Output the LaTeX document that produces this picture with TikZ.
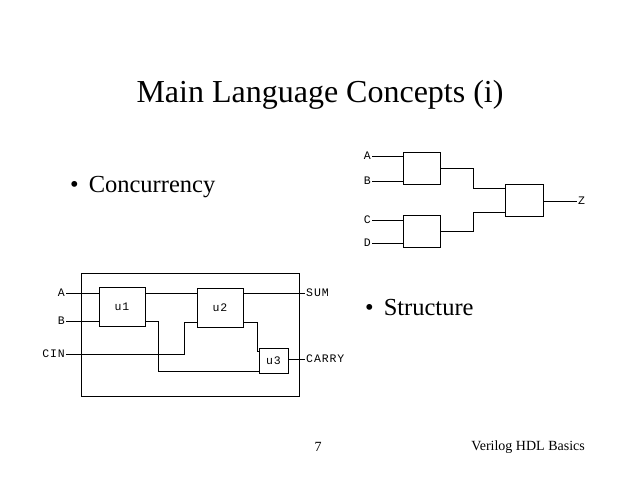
\documentclass[tikz,border=0pt]{standalone}
\usepackage{fontspec}
\setmainfont{Liberation Serif}
\newfontfamily\monof{Liberation Mono}[LetterSpace=8]
\begin{document}
\begin{tikzpicture}[x=1pt,y=-1pt,
  blk/.style={draw,line width=0.9pt,inner sep=0pt},
  w/.style={line width=0.9pt},
  lab/.style={font=\monof\fontsize{11.5}{13}\selectfont,inner sep=1pt},
  txt/.style={inner sep=0pt}]
\useasboundingbox[fill=white] (0,0) rectangle (638,478);
\node[txt,font=\fontsize{32}{36}\selectfont] (title) at (320,95) {Main Language Concepts (i)};
\node[txt,anchor=west,font=\fontsize{24.5}{28}\selectfont] (b1) at (70,187) {•\hspace{10pt}Concurrency};
\node[txt,anchor=west,font=\fontsize{24.5}{28}\selectfont] (b2) at (365,308) {•\hspace{10pt}Structure};
\node[txt,font=\fontsize{14}{16}\selectfont] (pg) at (318,447) {7};
\node[txt,anchor=east,font=\fontsize{14}{16}\selectfont] (ft) at (585,447) {Verilog HDL Basics};
% left diagram
\draw[blk] (81,273) rectangle (299,396);
\draw[blk] (99,287) rectangle node[lab]{u1} (145,326);
\draw[blk] (197,288) rectangle node[lab]{u2} (243,327);
\draw[blk] (259,348) rectangle node[lab]{u3} (288,373);
\node[lab,anchor=east] (A) at (66,293) {A};
\node[lab,anchor=east] (B) at (66,321) {B};
\node[lab,anchor=east] (CIN) at (66,354) {CIN};
\node[lab,anchor=west] (SUM) at (305,293) {SUM};
\node[lab,anchor=west] (CARRY) at (305,359) {CARRY};
\draw[w] (A.east) -- (99,293);
\draw[w] (B.east) -- (99,321);
\draw[w] (CIN.east) -- (184,354) -- (184,322) -- (197,322);
\draw[w] (145,293) -- (197,293);
\draw[w] (243,293) -- (SUM.west);
\draw[w] (145,321) -- (158,321) -- (158,371) -- (259,371);
\draw[w] (243,322) -- (257,322) -- (257,351) -- (259,351);
\draw[w] (288,359) -- (CARRY.west);
% right diagram
\draw[blk] (403,152) rectangle (440,184);
\draw[blk] (403,215) rectangle (440,247);
\draw[blk] (505,184) rectangle (543,216);
\node[lab,anchor=east] (RA) at (372,156) {A};
\node[lab,anchor=east] (RB) at (372,181) {B};
\node[lab,anchor=east] (RC) at (372,220) {C};
\node[lab,anchor=east] (RD) at (372,243) {D};
\node[lab,anchor=west] (RZ) at (577,201) {Z};
\draw[w] (RA.east) -- (403,156);
\draw[w] (RB.east) -- (403,181);
\draw[w] (RC.east) -- (403,220);
\draw[w] (RD.east) -- (403,243);
\draw[w] (440,168) -- (473,168) -- (473,188) -- (505,188);
\draw[w] (440,231) -- (473,231) -- (473,212) -- (505,212);
\draw[w] (543,201) -- (RZ.west);
\end{tikzpicture}
\end{document}
